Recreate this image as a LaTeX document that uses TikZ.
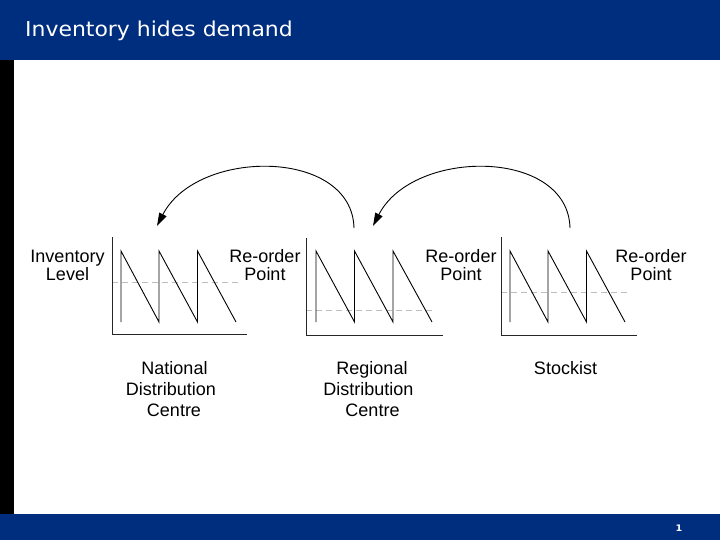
\documentclass[tikz,border=0pt]{standalone}
\usepackage{fontspec}
\setmainfont{Liberation Sans}
\newfontfamily\titlefont[FakeStretch=1.07]{DejaVu Sans}
\usetikzlibrary{arrows.meta}
\definecolor{band}{RGB}{0,46,127}
\definecolor{ropline}{RGB}{190,190,190}
\tikzset{
  lbl/.style={anchor=base, inner sep=0pt, font=\fontsize{18}{18}\selectfont},
  saw/.style={line width=0.9pt, black},
  axisline/.style={line width=0.9pt, black!85},
  ropdash/.style={ropline, line width=0.7pt, dash pattern=on 6pt off 4pt},
  flow/.style={line width=0.9pt, -{Triangle[length=13pt,width=8pt]}}
}
\begin{document}
\begin{tikzpicture}[x=1pt,y=-1pt]
\useasboundingbox (0,0) rectangle (720,540);
\fill[white] (0,0) rectangle (720,540);
% bands
\fill[band] (0,0) rectangle (720,60);
\fill[black] (0,60) rectangle (14,514);
\fill[band] (0,514) rectangle (720,540);
\node[anchor=base west, inner sep=0pt, text=white, font=\titlefont\fontsize{20.5}{20.5}\selectfont] (title) at (25,37) {Inventory hides demand};
\node[anchor=base, inner sep=0pt, text=white, font=\titlefont\bfseries\fontsize{9}{9}\selectfont] (pagenum) at (679,531) {1};

% chart 1
\draw[ropdash] (112,282) -- (240,282);
\draw[axisline] (112,237) -- (112,334) -- (247,334);
\draw[saw] (121,322) -- (121,251) -- (159,322) -- (159,251) -- (197.5,322) -- (197.5,251) -- (236,322);
% chart 2
\draw[ropdash] (306,310) -- (433,310);
\draw[axisline] (306,238) -- (306,335) -- (443,335);
\draw[saw] (316,322) -- (316,251) -- (354.5,322) -- (354.5,251) -- (393,322) -- (393,251) -- (432,322);
% chart 3
\draw[ropdash] (501,292) -- (628,292);
\draw[axisline] (501,237) -- (501,335) -- (637,335);
\draw[saw] (510,322) -- (510,251) -- (548,322) -- (548,251) -- (586.5,322) -- (586.5,251) -- (625,322);

% labels
\node[lbl] (inv1) at (67.5,262) {Inventory};
\node[lbl] (inv2) at (67.5,280) {Level};
\node[lbl] (ro1a) at (265,262) {Re-order};
\node[lbl] (ro1b) at (265,280) {Point};
\node[lbl] (ro2a) at (461,262) {Re-order};
\node[lbl] (ro2b) at (461,280) {Point};
\node[lbl] (ro3a) at (651,262) {Re-order};
\node[lbl] (ro3b) at (651,280) {Point};

\node[lbl] (nat1) at (174.5,374) {National};
\node[lbl] (nat2) at (171,395) {Distribution};
\node[lbl] (nat3) at (174,416) {Centre};
\node[lbl] (reg1) at (372,374) {Regional};
\node[lbl] (reg2) at (368.5,395) {Distribution};
\node[lbl] (reg3) at (372.5,416) {Centre};
\node[lbl] (stk) at (565.5,374) {Stockist};

% arrows
\coordinate (s2) at (354,228);
\coordinate (e1) at (157,226);
\coordinate (s3) at (570,228);
\coordinate (e2) at (373,226);
\draw[flow] (s2) .. controls (352,148) and (197,148) .. (e1);
\draw[flow] (s3) .. controls (568,148) and (413,148) .. (e2);
\end{tikzpicture}
\end{document}
